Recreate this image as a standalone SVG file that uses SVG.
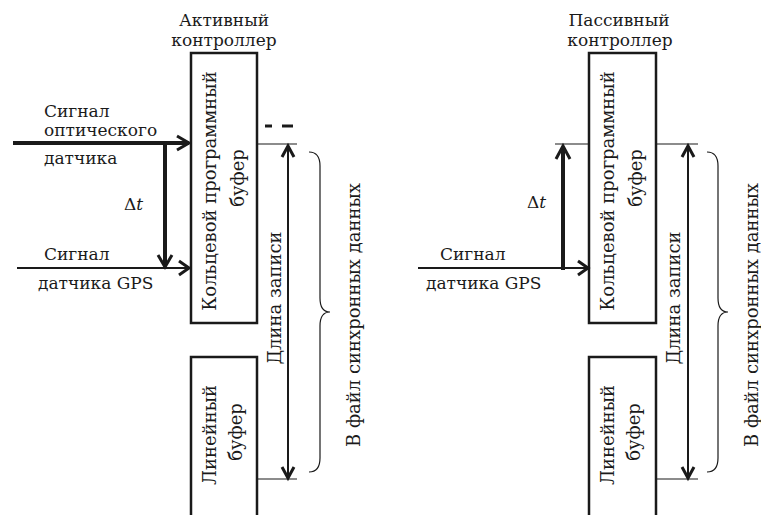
<svg xmlns="http://www.w3.org/2000/svg" width="761" height="515" viewBox="0 0 761 515">
<style>
text{font-family:'DejaVu Serif','Liberation Serif',serif;font-size:17px;fill:#1a1a1a}
text.rot{font-size:18px}
.box{fill:#fff;stroke:#1a1a1a;stroke-width:2.5}
.thin{stroke:#1a1a1a;stroke-width:1.2;fill:none}
.med{stroke:#1a1a1a;stroke-width:2;fill:none}
.thick{stroke:#1a1a1a;stroke-width:4;fill:none}
.head{stroke:#1a1a1a;stroke-width:3;fill:none;stroke-linejoin:miter}
.brace{stroke:#1a1a1a;stroke-width:1.2;fill:none}
</style>
<rect width="761" height="515" fill="#fff"/>

<!-- Left panel -->
<g id="active-title">
<text x="224" y="26" text-anchor="middle">Активный</text>
<text x="224" y="46" text-anchor="middle">контроллер</text>
</g>
<g id="active-ring-buffer">
<rect class="box" x="191" y="53" width="66" height="270"/>
<text class="rot" transform="translate(216,191) rotate(-90)" text-anchor="middle">Кольцевой программный</text>
<text class="rot" transform="translate(244,178) rotate(-90)" text-anchor="middle">буфер</text>
</g>
<g id="active-linear-buffer">
<path class="box" d="M191,520 V357 H257 V520"/>
<text class="rot" transform="translate(216,435) rotate(-90)" text-anchor="middle">Линейный</text>
<text class="rot" transform="translate(242,432) rotate(-90)" text-anchor="middle">буфер</text>
</g>
<g id="optical-label">
<text x="44" y="117">Сигнал</text>
<text x="44" y="136">оптического</text>
<text x="44" y="164">датчика</text>
</g>
<g id="gps-label-left">
<text x="44" y="260">Сигнал</text>
<text x="38" y="289">датчика GPS</text>
</g>
<text x="124" y="210">Δ<tspan font-style="italic">t</tspan></text>
<g id="left-file-labels">
<text class="rot" transform="translate(281,298) rotate(-90)" text-anchor="middle">Длина записи</text>
<text class="rot" transform="translate(360,315) rotate(-90)" text-anchor="middle">В файл синхронных данных</text>
</g>

<!-- Right panel -->
<g id="passive-title">
<text x="619" y="26" text-anchor="middle">Пассивный</text>
<text x="620" y="46" text-anchor="middle">контроллер</text>
</g>
<g id="passive-ring-buffer">
<rect class="box" x="589" y="53" width="67" height="270"/>
<text class="rot" transform="translate(614,191) rotate(-90)" text-anchor="middle">Кольцевой программный</text>
<text class="rot" transform="translate(642,178) rotate(-90)" text-anchor="middle">буфер</text>
</g>
<g id="passive-linear-buffer">
<path class="box" d="M589,520 V357 H656 V520"/>
<text class="rot" transform="translate(614,435) rotate(-90)" text-anchor="middle">Линейный</text>
<text class="rot" transform="translate(640,432) rotate(-90)" text-anchor="middle">буфер</text>
</g>
<g id="gps-label-right">
<text x="440" y="260">Сигнал</text>
<text x="426" y="289">датчика GPS</text>
</g>
<text x="527" y="208">Δ<tspan font-style="italic">t</tspan></text>
<g id="right-file-labels">
<text class="rot" transform="translate(680,298) rotate(-90)" text-anchor="middle">Длина записи</text>
<text class="rot" transform="translate(758,315) rotate(-90)" text-anchor="middle">В файл синхронных данных</text>
</g>

<g id="connectors">
<line class="thick" x1="13" y1="143" x2="189" y2="143"/>
<polyline class="head" points="177,136 189,143 177,150"/>
<line class="thick" x1="165" y1="141" x2="165" y2="266"/>
<polyline class="head" points="158,255 165,267 172,255"/>
<line class="med" x1="17" y1="268" x2="189" y2="268"/>
<polyline class="head" points="179,261 189,268 179,275"/>
<line x1="265" y1="126" x2="272" y2="126" stroke="#1a1a1a" stroke-width="3"/>
<line x1="282" y1="126" x2="293" y2="126" stroke="#1a1a1a" stroke-width="3"/>
<line class="thin" x1="257" y1="144" x2="297" y2="144"/>
<line class="thin" x1="257" y1="479" x2="297" y2="479"/>
<line class="med" x1="288" y1="147" x2="288" y2="476"/>
<polyline class="head" points="282,157 288,146 294,157"/>
<polyline class="head" points="282,467 288,478 294,467"/>
<path class="brace" d="M309,152 Q320,152 320,166 L320,298 Q320,312 330,312 Q320,312 320,326 L320,458 Q320,472 309,472"/>

<line class="thin" x1="555" y1="144" x2="589" y2="144"/>
<line class="thick" x1="563" y1="270" x2="563" y2="148"/>
<polyline class="head" points="556,159 563,146 570,159"/>
<line class="med" x1="418" y1="268" x2="588" y2="268"/>
<polyline class="head" points="578,261 588,268 578,275"/>
<line class="thin" x1="656" y1="144" x2="698" y2="144"/>
<line class="thin" x1="656" y1="479" x2="698" y2="479"/>
<line class="med" x1="688" y1="147" x2="688" y2="476"/>
<polyline class="head" points="682,157 688,146 694,157"/>
<polyline class="head" points="682,467 688,478 694,467"/>
<path class="brace" d="M707,152 Q718,152 718,166 L718,298 Q718,312 728,312 Q718,312 718,326 L718,458 Q718,472 707,472"/>
</g>
</svg>
